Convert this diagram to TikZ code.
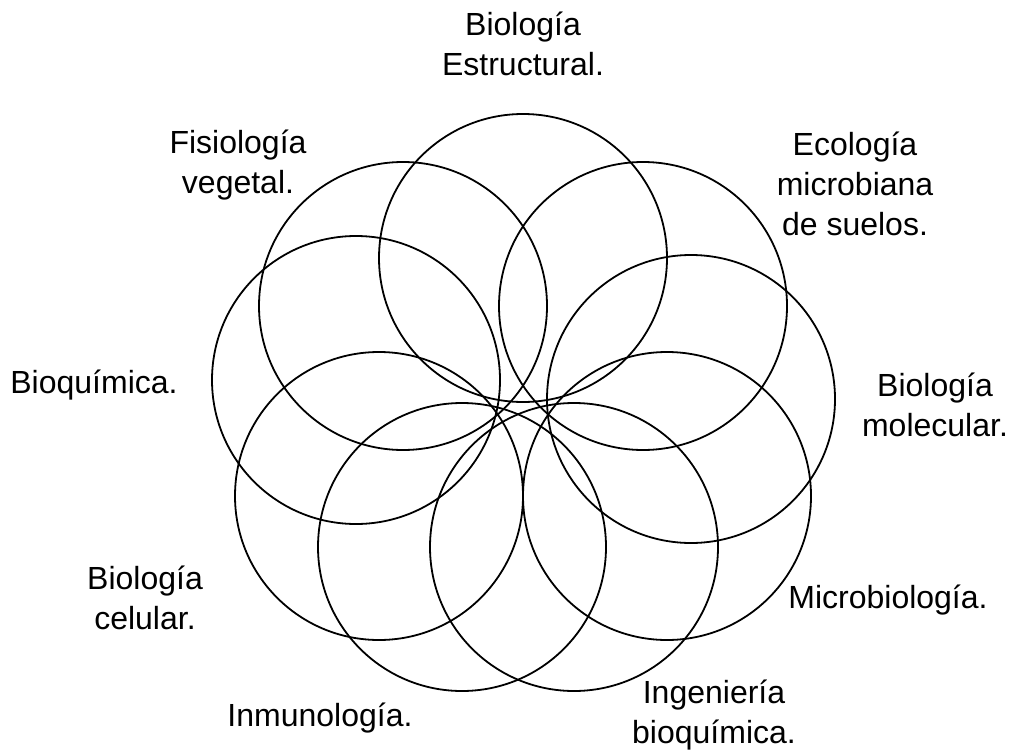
\documentclass[tikz,border=0pt]{standalone}
\usepackage{fontspec}
\setmainfont{Liberation Sans}
\begin{document}
\begin{tikzpicture}[x=1pt,y=-1pt,
  petal/.style={draw=black,line width=1.8pt,circle,minimum size=288pt,inner sep=0pt},
  lbl/.style={align=center,font=\fontsize{32}{40}\selectfont,inner sep=0pt}]
\useasboundingbox (0,0) rectangle (1011,749);
\node[petal] (cA) at (523,258) {};
\node[petal] (cB) at (643,306) {};
\node[petal] (cC) at (691,399) {};
\node[petal] (cD) at (667,496) {};
\node[petal] (cE) at (574,547) {};
\node[petal] (cF) at (462,547) {};
\node[petal] (cG) at (379,496) {};
\node[petal] (cH) at (356,380) {};
\node[petal] (cI) at (403,306) {};
\node[lbl] (tA) at (523,44) {Biología\\Estructural.};
\node[lbl] (tI) at (238,165) {Fisiología\\vegetal.};
\node[lbl] (tB) at (855,184) {Ecología\\microbiana\\de suelos.};
\node[lbl] (tH) at (94,385) {Bioquímica.};
\node[lbl] (tC) at (935,405) {Biología\\molecular.};
\node[lbl] (tG) at (145,598) {Biología\\celular.};
\node[lbl] (tD) at (888,600) {Microbiología.};
\node[lbl] (tF) at (320,718) {Inmunología.};
\node[lbl] (tE) at (714,715) {Ingeniería\\bioquímica.};
\end{tikzpicture}
\end{document}
